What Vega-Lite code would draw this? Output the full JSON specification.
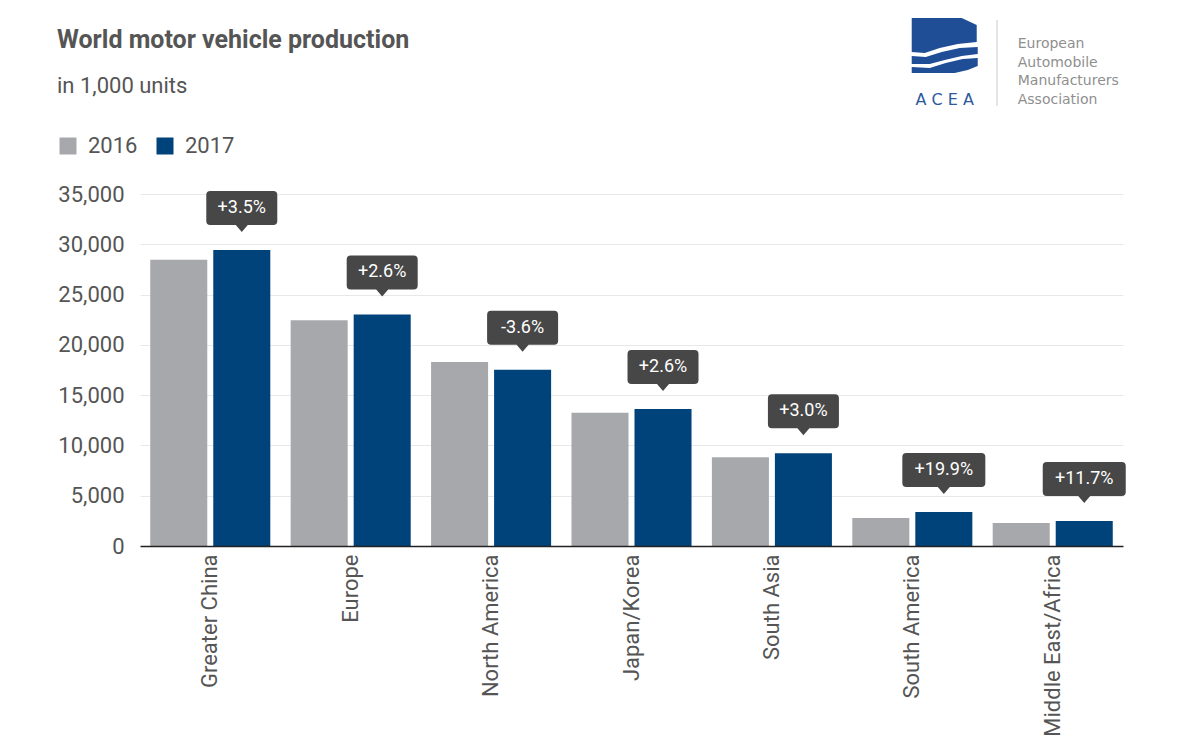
{
  "$schema": "https://vega.github.io/schema/vega-lite/v6.json",
  "width": 983,
  "height": 352,
  "autosize": {"type": "none"},
  "padding": {"left": 140, "top": 194, "right": 79, "bottom": 203},
  "background": "white",
  "config": {"font": "Roboto", "view": {"stroke": null}},
  "title": {
    "text": "World motor vehicle production",
    "subtitle": "in 1,000 units",
    "anchor": "start",
    "frame": "group",
    "dx": -83,
    "offset": -79,
    "font": "Roboto",
    "fontSize": 25,
    "fontWeight": "bold",
    "color": "#555555",
    "subtitleFont": "Roboto",
    "subtitleFontSize": 22,
    "subtitleColor": "#555555",
    "subtitlePadding": 23
  },
  "data": {
    "values": [
      {"region": "Greater China", "year": "2016", "value": 28450},
      {"region": "Greater China", "year": "2017", "value": 29420, "change": "+3.5%"},
      {"region": "Europe", "year": "2016", "value": 22440},
      {"region": "Europe", "year": "2017", "value": 23030, "change": "+2.6%"},
      {"region": "North America", "year": "2016", "value": 18290},
      {"region": "North America", "year": "2017", "value": 17530, "change": "-3.6%"},
      {"region": "Japan/Korea", "year": "2016", "value": 13260},
      {"region": "Japan/Korea", "year": "2017", "value": 13620, "change": "+2.6%"},
      {"region": "South Asia", "year": "2016", "value": 8820},
      {"region": "South Asia", "year": "2017", "value": 9220, "change": "+3.0%"},
      {"region": "South America", "year": "2016", "value": 2790},
      {"region": "South America", "year": "2017", "value": 3380, "change": "+19.9%"},
      {"region": "Middle East/Africa", "year": "2016", "value": 2290},
      {"region": "Middle East/Africa", "year": "2017", "value": 2490, "change": "+11.7%"}
    ]
  },
  "layer": [
    {
      "mark": {"type": "bar"},
      "encoding": {
        "x": {
          "field": "region",
          "type": "nominal",
          "sort": ["Greater China", "Europe", "North America", "Japan/Korea", "South Asia", "South America", "Middle East/Africa"],
          "scale": {"paddingInner": 0.145, "paddingOuter": 0.073},
          "axis": {
            "title": null,
            "labelAngle": -90,
            "labelFontSize": 22,
            "labelColor": "#555555",
            "labelPadding": 8,
            "labelLimit": 400,
            "ticks": false,
            "domainColor": "#222222",
            "domainWidth": 1.5,
            "zindex": 1
          }
        },
        "xOffset": {
          "field": "year",
          "type": "nominal",
          "scale": {"paddingInner": 0.095, "paddingOuter": 0}
        },
        "y": {
          "field": "value",
          "type": "quantitative",
          "scale": {"domain": [0, 35000], "nice": false},
          "axis": {
            "title": null,
            "values": [0, 5000, 10000, 15000, 20000, 25000, 30000, 35000],
            "format": ",.0f",
            "labelFontSize": 22,
            "labelColor": "#555555",
            "labelPadding": 16,
            "domain": false,
            "ticks": false,
            "gridColor": "#E8E8E8",
            "gridWidth": 1
          }
        },
        "color": {
          "field": "year",
          "type": "nominal",
          "scale": {"domain": ["2016", "2017"], "range": ["#A6A8AB", "#00427A"]},
          "legend": {
            "title": null,
            "orient": "none",
            "legendX": -83,
            "legendY": -59,
            "direction": "horizontal",
            "symbolType": "square",
            "symbolSize": 289,
            "symbolStrokeWidth": 0,
            "symbolOpacity": 1,
            "labelFontSize": 22,
            "labelColor": "#555555",
            "labelOffset": 9,
            "columnPadding": 16
          }
        }
      }
    },
    {
      "transform": [{"filter": "datum.year == '2017'"}],
      "mark": {"type": "point", "filled": true, "color": "#474747", "opacity": 1, "size": 4, "strokeWidth": 0},
      "encoding": {
        "x": {"field": "region", "type": "nominal", "sort": ["Greater China", "Europe", "North America", "Japan/Korea", "South Asia", "South America", "Middle East/Africa"]},
        "xOffset": {"field": "year", "type": "nominal"},
        "y": {"field": "value", "type": "quantitative"},
        "shape": {
          "field": "change",
          "type": "nominal",
          "legend": null,
          "scale": {
            "domain": ["+3.5%", "+2.6%", "-3.6%", "+3.0%", "+19.9%", "+11.7%"],
            "range": [
              "M-31.5,-59 L31.5,-59 Q35.5,-59 35.5,-55 L35.5,-29 Q35.5,-25 31.5,-25 L6,-25 L0,-18 L-6,-25 L-31.5,-25 Q-35.5,-25 -35.5,-29 L-35.5,-55 Q-35.5,-59 -31.5,-59 Z",
              "M-31.5,-59 L31.5,-59 Q35.5,-59 35.5,-55 L35.5,-29 Q35.5,-25 31.5,-25 L6,-25 L0,-18 L-6,-25 L-31.5,-25 Q-35.5,-25 -35.5,-29 L-35.5,-55 Q-35.5,-59 -31.5,-59 Z",
              "M-31.5,-59 L31.5,-59 Q35.5,-59 35.5,-55 L35.5,-29 Q35.5,-25 31.5,-25 L6,-25 L0,-18 L-6,-25 L-31.5,-25 Q-35.5,-25 -35.5,-29 L-35.5,-55 Q-35.5,-59 -31.5,-59 Z",
              "M-31.5,-59 L31.5,-59 Q35.5,-59 35.5,-55 L35.5,-29 Q35.5,-25 31.5,-25 L6,-25 L0,-18 L-6,-25 L-31.5,-25 Q-35.5,-25 -35.5,-29 L-35.5,-55 Q-35.5,-59 -31.5,-59 Z",
              "M-37.5,-59 L37.5,-59 Q41.5,-59 41.5,-55 L41.5,-29 Q41.5,-25 37.5,-25 L6,-25 L0,-18 L-6,-25 L-37.5,-25 Q-41.5,-25 -41.5,-29 L-41.5,-55 Q-41.5,-59 -37.5,-59 Z",
              "M-37.5,-59 L37.5,-59 Q41.5,-59 41.5,-55 L41.5,-29 Q41.5,-25 37.5,-25 L6,-25 L0,-18 L-6,-25 L-37.5,-25 Q-41.5,-25 -41.5,-29 L-41.5,-55 Q-41.5,-59 -37.5,-59 Z"
            ]
          }
        }
      }
    },
    {
      "transform": [{"filter": "datum.year == '2017'"}],
      "mark": {"type": "text", "color": "#FFFFFF", "fontSize": 18, "dy": -42, "baseline": "middle", "align": "center", "font": "Roboto"},
      "encoding": {
        "x": {"field": "region", "type": "nominal", "sort": ["Greater China", "Europe", "North America", "Japan/Korea", "South Asia", "South America", "Middle East/Africa"]},
        "xOffset": {"field": "year", "type": "nominal"},
        "y": {"field": "value", "type": "quantitative"},
        "text": {"field": "change"}
      }
    },
    {
      "data": {"values": [{"logo": "icon"}]},
      "mark": {"type": "point", "filled": true, "color": "#1F4E96", "opacity": 1, "size": 4, "strokeWidth": 0,
        "shape": "M-141,-176 L-91,-176 L-76,-169 L-76,-152 L-95,-150 L-113,-146 L-128,-141 L-141,-142 Z M-141,-138 L-127,-137 L-111,-142 L-93,-146 L-75,-147 L-75,-140 L-91,-138 L-108,-134 L-123,-130 L-141,-130 Z M-141,-127 L-123,-126 L-107,-131 L-90,-135 L-75,-136 L-75,-128 L-85,-124 L-98,-121 L-141,-121 Z"},
      "encoding": {
        "x": {"datum": "Middle East/Africa", "type": "nominal"},
        "y": {"datum": 35000, "type": "quantitative"}
      }
    },
    {
      "data": {"values": [{"logo": "separator"}]},
      "mark": {"type": "point", "filled": false, "color": "#CCCCCC", "opacity": 1, "size": 4, "strokeWidth": 1,
        "shape": "M-55.7,-174 L-55.7,-88"},
      "encoding": {
        "x": {"datum": "Middle East/Africa", "type": "nominal"},
        "y": {"datum": 35000, "type": "quantitative"}
      }
    },
    {
      "data": {"values": [{"logo": "ACEA"}]},
      "mark": {"type": "text", "text": "A C E A", "font": "DejaVu Sans", "fontSize": 16, "color": "#2C5A9E", "align": "center", "baseline": "alphabetic", "dx": -108, "dy": -89},
      "encoding": {
        "x": {"datum": "Middle East/Africa", "type": "nominal"},
        "y": {"datum": 35000, "type": "quantitative"}
      }
    },
    {
      "data": {"values": [{"logo": "name"}]},
      "mark": {"type": "text", "text": ["European", "Automobile", "Manufacturers", "Association"], "font": "DejaVu Sans", "fontSize": 14, "lineHeight": 18.7, "color": "#8F8F8F", "align": "left", "baseline": "alphabetic", "dx": -35, "dy": -146},
      "encoding": {
        "x": {"datum": "Middle East/Africa", "type": "nominal"},
        "y": {"datum": 35000, "type": "quantitative"}
      }
    }
  ]
}
